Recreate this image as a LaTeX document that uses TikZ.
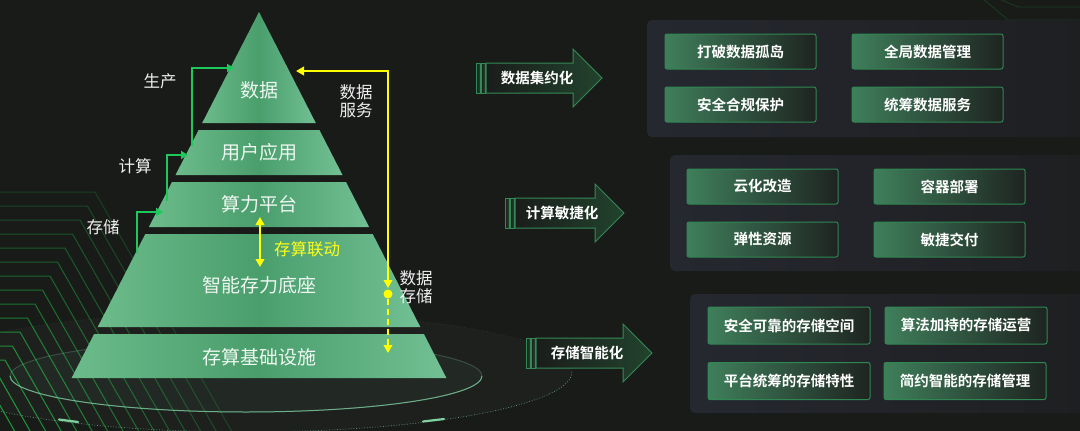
\documentclass[tikz,border=0pt]{standalone}
\usepackage{fontspec}
\setmainfont{Noto Sans CJK SC}[BoldFont={Noto Sans CJK SC Bold}]
\usetikzlibrary{arrows.meta,calc}
\definecolor{bg}{HTML}{191B19}
\definecolor{tierL}{HTML}{6CBB8B}
\definecolor{tierM}{HTML}{4A9E6C}
\definecolor{tierR}{HTML}{72C094}
\definecolor{tiertext}{HTML}{EEF7F1}
\definecolor{garrowc}{HTML}{1FC85A}
\definecolor{yarrowc}{HTML}{FFFF00}
\definecolor{panelL}{HTML}{262830}
\definecolor{panelR}{HTML}{1D1F21}
\definecolor{boxL}{HTML}{3F7F5B}
\definecolor{boxR}{HTML}{1E2421}
\definecolor{boxB}{HTML}{2F8752}
\definecolor{barrL}{HTML}{1A1D1B}
\definecolor{barrR}{HTML}{22432D}
\definecolor{barrB}{HTML}{348A56}
\definecolor{lineG}{HTML}{1CA03C}
\definecolor{ringc}{HTML}{7FCFA0}
\begin{document}
\begin{tikzpicture}[x=1pt,y=-1pt,
  tierpath/.style={left color=tierL,right color=tierR,middle color=tierM},
  tiertxt/.style={text=tiertext,font=\fontsize{19}{22}\selectfont},
  lbl/.style={text=white!94!black,font=\fontsize{16.5}{19}\selectfont,align=center,inner sep=0pt},
  garrow/.style={draw=garrowc,line width=2.6pt,-{Triangle[length=7pt,width=8pt]}},
  yarrow/.style={draw=yarrowc,line width=2.2pt,>={Triangle[length=8pt,width=8.5pt]}},
  boxnode/.style={draw=boxB,line width=1pt,rounded corners=2pt,left color=boxL,right color=boxR,
     text=white,font=\bfseries\fontsize{14.5}{16}\selectfont,inner sep=0pt},
  boxA/.style={boxnode,minimum width=151pt,minimum height=35pt},
  boxC/.style={boxnode,minimum width=162pt,minimum height=37pt},
  panel/.style={left color=panelL,right color=panelR,rounded corners=5pt},
  barrow/.style={draw=barrB,line width=1pt,left color=barrL,right color=barrR},
  barrtxt/.style={text=white,font=\bfseries\fontsize{14.5}{17}\selectfont,inner sep=0pt}
]
\useasboundingbox (0,0) rectangle (1080,431);
\fill[bg] (0,0) rectangle (1080,431);

% decorative lines lower left
\foreach \i in {0,...,15} {
  \pgfmathsetmacro\yy{192+14*\i}
  \pgfmathsetmacro\xx{95-7.5*\i}
  \pgfmathsetmacro\xe{\xx+(431-\yy)/1.75}
  \pgfmathsetmacro\op{0.28+0.05*\i}
  \draw[line width=1pt,draw=lineG,opacity=\op] (-5,\yy) -- (\xx,\yy) -- (\xe,431);
}
% faint lines top right
\draw[line width=0.8pt,draw=lineG,opacity=0.25] (982,-2) -- (1008,20) -- (1085,20);
\draw[line width=0.8pt,draw=lineG,opacity=0.25] (997,-2) -- (1018,7) -- (1085,7);

% rings
\fill[white,opacity=0.025] (246,372) ellipse [x radius=326,y radius=60];
\fill[ringc,opacity=0.05] (246,376) ellipse [x radius=236,y radius=36];
\draw[ringc,opacity=0.18,line width=0.6pt,dotted] (246,372) ellipse [x radius=326,y radius=60];
\draw[ringc,opacity=0.7,line width=0.7pt,dotted] (572,372) arc[start angle=0,end angle=180,x radius=326,y radius=60];
\draw[ringc,opacity=0.25,line width=1pt] (246,376) ellipse [x radius=236,y radius=36];
\draw[ringc,opacity=0.75,line width=1pt] (482,376) arc[start angle=0,end angle=180,x radius=236,y radius=36];
\draw[ringc,line width=2.2pt,line cap=round] (423,421.5) -- (444,419);
\draw[ringc,line width=2.2pt,line cap=round] (59,419.5) -- (78,422);

% pyramid tiers
\path[tierpath] (259,12) -- (315.8,123) -- (202.2,123) -- cycle;
\path[tierpath] (198.6,130) -- (319.4,130) -- (342.5,175) -- (175.5,175) -- cycle;
\path[tierpath] (172,182) -- (346,182) -- (369.1,227) -- (148.9,227) -- cycle;
\path[tierpath] (145.3,234) -- (372.7,234) -- (420.3,327) -- (97.7,327) -- cycle;
\path[tierpath] (94.1,334) -- (423.9,334) -- (446.4,378) -- (71.6,378) -- cycle;

\node[tiertxt] (t1) at (259,90) {数据};
\node[tiertxt] (t2) at (259,152) {用户应用};
\node[tiertxt] (t3) at (259,204) {算力平台};
\node[tiertxt] (t4) at (259,285) {智能存力底座};
\node[tiertxt] (t5) at (259,357) {存算基础设施};

% green arrows
\coordinate (g1s) at (192,146); \coordinate (g1e) at (234,68);
\coordinate (g2s) at (167,201); \coordinate (g2e) at (188,155);
\coordinate (g3s) at (137,253); \coordinate (g3e) at (163,212);
\draw[garrow] (g1s) |- (g1e);
\draw[garrow] (g2s) |- (g2e);
\draw[garrow] (g3s) |- (g3e);
\node[lbl] (lsc) at (160,81) {生产};
\node[lbl] (ljs) at (135,166) {计算};
\node[lbl] (lcc) at (103,227) {存储};

% yellow arrows
\coordinate (ys) at (296,71); \coordinate (ye) at (388,288);
\draw[yarrow,<->] (ys) -| (ye);
\node[circle,fill=yarrowc,inner sep=0pt,minimum size=9pt] (ydot) at (388,294) {};
\coordinate (yd) at (388,353);
\draw[yarrow,dash pattern=on 6pt off 4pt,->] (ydot) -- (yd);
\coordinate (lk1) at (260,217); \coordinate (lk2) at (260,267);
\draw[yarrow,<->] (lk1) -- (lk2);
\node[lbl,text=yarrowc!90!white] (llk) at (307,249) {存算联动};
\node[lbl,align=left] (lsvc) at (356,101.5) {数据\\[-1pt]服务};
\node[lbl,align=left] (lsto) at (416,287.5) {数据\\[-1pt]存储};

% block arrows
\foreach \x/\y/\L in {476/78/97, 505/213/90, 526/353/97} {
  \draw[barrow] (\x,\y-15) rectangle (\x+4,\y+15);
  \draw[barrow] (\x+5,\y-15) rectangle (\x+9,\y+15);
  \draw[barrow] (\x+10,\y-15) -- (\x+\L,\y-15) -- (\x+\L,\y-29) -- (\x+\L+29,\y)
     -- (\x+\L,\y+29) -- (\x+\L,\y+15) -- (\x+10,\y+15) -- cycle;
}
\node[barrtxt] (a1) at (537,78) {数据集约化};
\node[barrtxt] (a2) at (562,213) {计算敏捷化};
\node[barrtxt] (a3) at (587,353) {存储智能化};

% panels
\path[panel] (647,20) rectangle (1090,137);
\path[panel] (670,155) rectangle (1090,271);
\path[panel] (690,294) rectangle (1090,413);

\node[boxA] (b11) at (740.5,51.5) {打破数据孤岛};
\node[boxA] (b12) at (927.5,51.5) {全局数据管理};
\node[boxA] (b13) at (740.5,104.5) {安全合规保护};
\node[boxA] (b14) at (927.5,104.5) {统筹数据服务};

\node[boxA] (b21) at (762.5,186.5) {云化改造};
\node[boxA] (b22) at (949.5,186.5) {容器部署};
\node[boxA] (b23) at (762.5,239.5) {弹性资源};
\node[boxA] (b24) at (949.5,239.5) {敏捷交付};

\node[boxC] (b31) at (789,325.5) {安全可靠的存储空间};
\node[boxC] (b32) at (966,325.5) {算法加持的存储运营};
\node[boxC] (b33) at (789,381) {平台统筹的存储特性};
\node[boxC] (b34) at (965,381) {简约智能的存储管理};
\end{tikzpicture}
\end{document}
